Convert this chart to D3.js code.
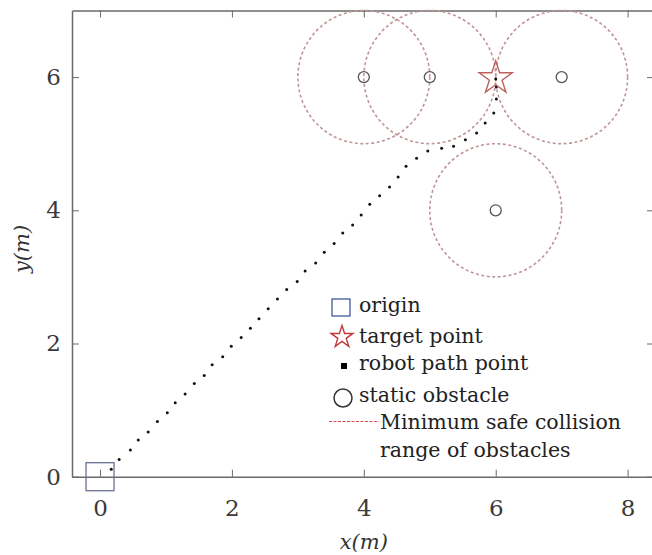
<!DOCTYPE html>
<html>
<head>
<meta charset="utf-8">
<script src="https://cdn.jsdelivr.net/npm/d3@7"></script>
<style>
  body { margin: 0; background: #fff; }
  svg text { font-family: "DejaVu Serif", serif; }
</style>
</head>
<body>
<div id="chart"></div>
<script>
// Data
const xTicks = [0, 2, 4, 6, 8];
const yTicks = [0, 2, 4, 6];
const origin = [0, 0];
const target = [6, 6];
const obstacles = [[4, 6], [5, 6], [7, 6], [6, 4]];
const safeRadius = 1;
const pathX = [0.17, 0.29, 0.46, 0.58, 0.73, 0.87, 1.02, 1.14, 1.29, 1.43, 1.58, 1.70, 1.86, 1.99, 2.14,
    2.28, 2.41, 2.55, 2.69, 2.83, 2.99, 3.11, 3.27, 3.40, 3.55, 3.68, 3.83, 3.96, 4.09, 4.24, 4.39,
    4.52, 4.64, 4.80, 4.97, 5.18, 5.36, 5.54, 5.71, 5.84, 5.97, 6.01, 6.01, 6.0];
const pathY = [0.11, 0.26, 0.40, 0.55, 0.67, 0.83, 0.96, 1.11, 1.24, 1.40, 1.52, 1.68, 1.80, 1.96, 2.09,
    2.23, 2.37, 2.52, 2.67, 2.81, 2.93, 3.09, 3.21, 3.37, 3.50, 3.66, 3.78, 3.93, 4.09, 4.22, 4.35,
    4.50, 4.66, 4.78, 4.89, 4.93, 4.96, 5.06, 5.16, 5.31, 5.46, 5.67, 5.85, 5.97];
const legendLabels = ["origin", "target point", "robot path point", "static obstacle",
    "Minimum safe collision", "range of obstacles"];

const W = 652, H = 555;
const margin = { top: 10.5, right: -2, bottom: 78.3, left: 72 };

const svg = d3.select("#chart").append("svg")
    .attr("width", W)
    .attr("height", H);

const x = d3.scaleLinear()
    .domain([-0.425, 8.4])
    .range([margin.left, W - margin.right]);

const y = d3.scaleLinear()
    .domain([0, 7])
    .range([H - margin.bottom, margin.top]);

const axisColor = "#6a6a6a";
const tickLen = 7;
const fmt = d3.format("d");

// Axes (box with inner ticks)
const gx = svg.append("g")
    .attr("transform", `translate(0,${y(0)})`)
    .call(d3.axisBottom(x).tickValues(xTicks).tickFormat(fmt).tickSizeInner(-tickLen).tickSizeOuter(0).tickPadding(23));

const gy = svg.append("g")
    .attr("transform", `translate(${x(-0.425)},0)`)
    .call(d3.axisLeft(y).tickValues(yTicks).tickFormat(fmt).tickSizeInner(-tickLen).tickSizeOuter(0).tickPadding(11));

svg.append("g")
    .attr("transform", `translate(0,${y(7)})`)
    .call(d3.axisTop(x).tickValues(xTicks).tickSizeInner(-tickLen).tickSizeOuter(0).tickFormat(""));

svg.append("g")
    .attr("transform", `translate(${x(8.4)},0)`)
    .call(d3.axisRight(y).tickValues(yTicks).tickSizeInner(-tickLen).tickSizeOuter(0).tickFormat(""));

[gx, gy].forEach(g => g.selectAll("text").attr("font-size", 23).attr("fill", "#3a3a3a"));
svg.selectAll(".domain").attr("stroke", axisColor).attr("stroke-width", 1.5);
svg.selectAll(".tick line").attr("stroke", axisColor).attr("stroke-width", 1);

// Safety range circles
svg.append("g")
    .selectAll("ellipse")
    .data(obstacles)
    .join("ellipse")
    .attr("cx", d => x(d[0]))
    .attr("cy", d => y(d[1]))
    .attr("rx", x(safeRadius) - x(0))
    .attr("ry", y(0) - y(safeRadius))
    .attr("fill", "none")
    .attr("stroke", "#c09595")
    .attr("stroke-width", 1.6)
    .attr("stroke-dasharray", "3,2.5");

// Obstacles
svg.append("g")
    .selectAll("circle")
    .data(obstacles)
    .join("circle")
    .attr("cx", d => x(d[0]))
    .attr("cy", d => y(d[1]))
    .attr("r", 5.5)
    .attr("fill", "none")
    .attr("stroke", "#555")
    .attr("stroke-width", 1.3);

// Path points
svg.append("g")
    .selectAll("circle")
    .data(pathX.map((v, i) => [v, pathY[i]]))
    .join("circle")
    .attr("cx", d => x(d[0]))
    .attr("cy", d => y(d[1]))
    .attr("r", 1.5)
    .attr("fill", "#111");

// Origin square
svg.append("rect")
    .attr("x", x(origin[0]) - 14)
    .attr("y", y(origin[1]) - 14)
    .attr("width", 28)
    .attr("height", 28)
    .attr("fill", "none")
    .attr("stroke", "#6a7296")
    .attr("stroke-width", 1.3);

// Target star
const star = d3.symbol().type(d3.symbolStar);
svg.append("path")
    .attr("transform", `translate(${x(target[0])},${y(target[1]) + 1})`)
    .attr("d", star.size(340)())
    .attr("fill", "none")
    .attr("stroke", "#c06060")
    .attr("stroke-width", 1.4);

// Axis titles
svg.append("text")
    .attr("x", x(4))
    .attr("y", 549)
    .attr("text-anchor", "middle")
    .attr("font-size", 21)
    .attr("font-style", "italic")
    .attr("fill", "#333")
    .text("x(m)");

svg.append("text")
    .attr("transform", `translate(29,249) rotate(-90)`)
    .attr("text-anchor", "middle")
    .attr("font-size", 21)
    .attr("font-style", "italic")
    .attr("fill", "#333")
    .text("y(m)");

// Legend
const lg = svg.append("g");
const lx = 341, tx = 359, fs = 20.5;
const baselines = [312, 343, 370, 402, 429, 457];

lg.append("rect")
    .attr("x", lx - 9).attr("y", 299).attr("width", 18).attr("height", 17)
    .attr("fill", "none").attr("stroke", "#3f5a9a").attr("stroke-width", 1.3);

lg.append("path")
    .attr("transform", `translate(${lx + 1},337)`)
    .attr("d", star.size(150)())
    .attr("fill", "none").attr("stroke", "#c03a3a").attr("stroke-width", 1.4);

lg.append("rect")
    .attr("x", lx).attr("y", 363).attr("width", 6).attr("height", 6)
    .attr("fill", "#000");

lg.append("circle")
    .attr("cx", lx + 2).attr("cy", 398).attr("r", 9)
    .attr("fill", "none").attr("stroke", "#333").attr("stroke-width", 1.5);

lg.append("line")
    .attr("x1", 329).attr("x2", 379).attr("y1", 421.5).attr("y2", 421.5)
    .attr("stroke", "#d84848").attr("stroke-width", 1.2).attr("stroke-dasharray", "3,1.5");

lg.selectAll("text")
    .data(legendLabels)
    .join("text")
    .attr("x", (d, i) => i < 4 ? tx : 380)
    .attr("y", (d, i) => baselines[i])
    .attr("font-size", fs)
    .attr("fill", "#222")
    .text(d => d);
</script>
</body>
</html>
